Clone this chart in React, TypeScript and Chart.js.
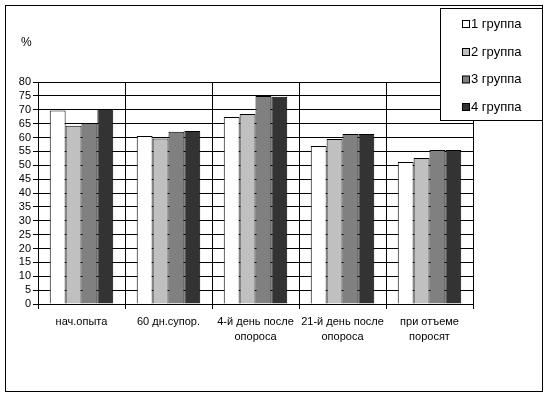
import React, { useEffect, useRef } from "react";
import { Chart, registerables } from "chart.js";

Chart.register(...registerables);

const categories: (string | string[])[] = [
  "нач.опыта",
  "60 дн.супор.",
  ["4-й день после", "опороса"],
  ["21-й день после", "опороса"],
  ["при отъеме", "поросят"],
];
const group1 = [69.7, 60.5, 67.4, 56.9, 51.2];
const group2 = [64.2, 59.6, 68.5, 59.5, 52.6];
const group3 = [65.2, 62.1, 75.0, 61.3, 55.5];
const group4 = [70.3, 62.3, 74.7, 61.3, 55.5];
const seriesLabels = ["1 группа", "2 группа", "3 группа", "4 группа"];
const seriesColors = ["#ffffff", "#c0c0c0", "#808080", "#333333"];
const yUnit = "%";

const FONT = "'Liberation Sans', Arial, sans-serif";

const framePlugin = {
  id: "frame",
  beforeDraw(chart: any) {
    const { ctx, width, height } = chart;
    ctx.save();
    ctx.fillStyle = "#ffffff";
    ctx.fillRect(0, 0, width, height);
    ctx.strokeStyle = "#000000";
    ctx.lineWidth = 1;
    ctx.strokeRect(5.5, 5.5, width - 6 - 5, height - 5 - 5);
    ctx.restore();
  },
  afterDraw(chart: any) {
    const { ctx, chartArea } = chart;
    ctx.save();
    ctx.fillStyle = "#000";
    ctx.font = `12px ${FONT}`;
    ctx.textAlign = "left";
    ctx.textBaseline = "middle";
    ctx.fillText(yUnit, chartArea.left - 17, chartArea.top - 39);
    const bx = 440.5, by = 8.5, bw = 102, bh = 112;
    ctx.fillStyle = "#fff";
    ctx.fillRect(bx, by, bw, bh);
    ctx.strokeStyle = "#000";
    ctx.lineWidth = 1;
    ctx.strokeRect(bx, by, bw, bh);
    const ys = [24, 52, 79.5, 107];
    chart.data.datasets.forEach((ds: any, i: number) => {
      const y = ys[i];
      ctx.fillStyle = ds.backgroundColor;
      ctx.fillRect(462.5, y - 3.5, 7, 7);
      ctx.strokeStyle = "#000";
      ctx.strokeRect(462.5, y - 3.5, 7, 7);
      ctx.fillStyle = "#000";
      ctx.font = `13px ${FONT}`;
      ctx.textBaseline = "middle";
      ctx.fillText(ds.label, 471, y);
    });
    ctx.restore();
  },
};

export default function App() {
  const ref = useRef<HTMLCanvasElement>(null);
  useEffect(() => {
    document.body.style.margin = "0";
    const data = [group1, group2, group3, group4];
    const chart = new Chart(ref.current!, {
      type: "bar",
      data: {
        labels: categories,
        datasets: data.map((d, i) => ({
          label: seriesLabels[i],
          data: d,
          backgroundColor: seriesColors[i],
          borderColor: "#000000",
          borderWidth: 1,
          categoryPercentage: 0.73,
          barPercentage: 1,
        })),
      },
      options: {
        animation: false,
        responsive: false,
        devicePixelRatio: 1,
        layout: { padding: { left: 0, top: 82, right: 75, bottom: 0 } },
        plugins: { legend: { display: false }, tooltip: { enabled: false } },
        scales: {
          x: {
            grid: { color: "#000", lineWidth: 1, offset: true, tickLength: 5, drawTicks: true },
            border: { color: "#000" },
            ticks: { color: "#000", font: { family: FONT, size: 11, lineHeight: 1.35 }, padding: 6, maxRotation: 0, autoSkip: false },
            afterFit: (a: any) => { a.height = 92; },
          },
          y: {
            min: 0,
            max: 80,
            ticks: { stepSize: 5, autoSkip: false, color: "#000", font: { family: FONT, size: 11 }, padding: 2 },
            grid: { color: "#000", lineWidth: 1, tickLength: 5 },
            border: { color: "#000" },
            afterFit: (a: any) => { a.width = 38; },
          },
        },
      },
      plugins: [framePlugin],
    });
    return () => chart.destroy();
  }, []);
  return <canvas ref={ref} width={548} height={396} style={{ display: "block" }} />;
}
